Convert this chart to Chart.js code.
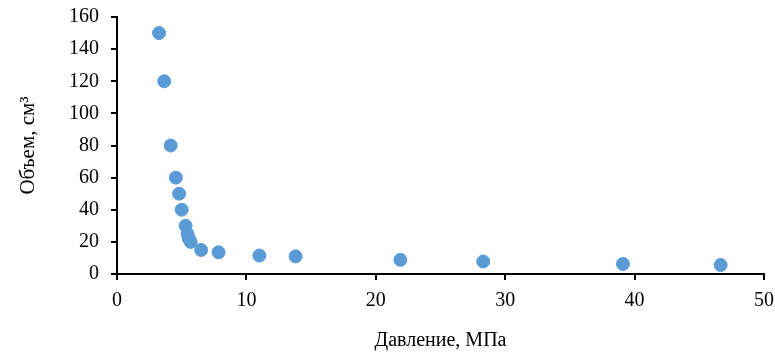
<!DOCTYPE html>
<html>
<head>
<meta charset="utf-8">
<script src="https://cdn.jsdelivr.net/npm/chart.js@4"></script>
<style>
  html, body { margin: 0; padding: 0; background: #fff; }
  #wrap { width: 775px; height: 356px; }
</style>
</head>
<body>
<div id="wrap"><canvas id="chart" width="775" height="356"></canvas></div>
<script>
  // давление, МПа
  const pressure = [3.25, 3.65, 4.15, 4.55, 4.8, 5.0, 5.3, 5.45, 5.55, 5.7, 6.5, 7.85, 11.0, 13.8, 21.9, 28.3, 39.1, 46.65];
  // объем, см3
  const volume = [150, 120, 80, 60, 50, 40, 30, 25, 22, 20, 15, 13.5, 11.5, 11, 8.8, 7.8, 6.3, 5.6];

  const xTicks = [0, 10, 20, 30, 40, 50];
  const yTicks = [0, 20, 40, 60, 80, 100, 120, 140, 160];

  const points = pressure.map((p, i) => ({ x: p, y: volume[i] }));

  const tickFont = { family: "'Liberation Serif', 'Times New Roman', serif", size: 20 };
  const xTitleFont = { family: "'Liberation Serif', 'Times New Roman', serif", size: 20 };
  const yTitleFont = { family: "'Liberation Serif', 'Times New Roman', serif", size: 21 };

  new Chart(document.getElementById('chart'), {
    type: 'scatter',
    data: {
      datasets: [{
        data: points,
        backgroundColor: '#5B9BD5',
        borderColor: '#5B9BD5',
        pointRadius: 6.5,
        pointHoverRadius: 6.5,
      }],
    },
    options: {
      responsive: false,
      animation: false,
      layout: { padding: { top: 17, right: 11, bottom: 0, left: 0 } },
      plugins: { legend: { display: false }, tooltip: { enabled: false } },
      scales: {
        x: {
          type: 'linear',
          min: xTicks[0],
          max: xTicks[xTicks.length - 1],
          afterBuildTicks: (s) => { s.ticks = xTicks.map(v => ({ value: v })); },
          afterFit: (s) => { s.height = 82; s.paddingLeft = 0; s.paddingRight = 0; },
          border: { color: '#000', width: 2 },
          grid: { drawOnChartArea: false, drawTicks: true, tickLength: 6, color: '#000', lineWidth: 2 },
          ticks: { color: '#000', font: tickFont, padding: 9, maxRotation: 0 },
          title: { display: true, text: 'Давление, МПа', color: '#000', font: xTitleFont, padding: { top: 10, bottom: 3 } },
        },
        y: {
          type: 'linear',
          min: yTicks[0],
          max: yTicks[yTicks.length - 1],
          afterBuildTicks: (s) => { s.ticks = yTicks.map(v => ({ value: v })); },
          afterFit: (s) => { s.width = 117; s.paddingTop = 0; s.paddingBottom = 0; },
          border: { color: '#000', width: 2 },
          grid: { drawOnChartArea: false, drawTicks: true, tickLength: 6, color: '#000', lineWidth: 2 },
          ticks: { color: '#000', font: tickFont, padding: 12 },
          title: { display: true, text: 'Объем, см³', color: '#000', font: yTitleFont, padding: { top: 16, bottom: 0 } },
        },
      },
    },
  });
</script>
</body>
</html>
